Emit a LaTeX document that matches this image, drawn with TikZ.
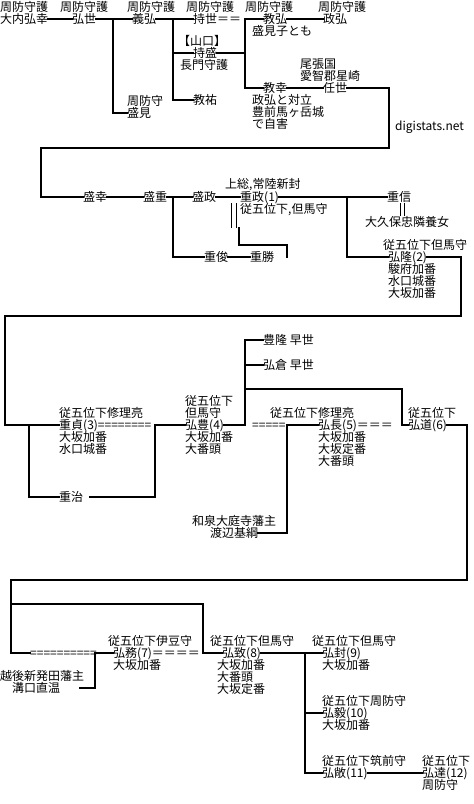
\documentclass[tikz,border=0pt]{standalone}
\usepackage{fontspec}
\setmainfont{Noto Sans CJK JP}

\begin{document}
\begin{tikzpicture}[
  x=1pt, y=-1pt,
  nm/.style={inner sep=0pt, anchor=west, font=\fontsize{12}{12}\selectfont,
             text height=10.5pt, text depth=1.5pt},
  ttl/.style={inner sep=0pt, anchor=south west, align=left,
              font=\fontsize{12}{12}\selectfont},
  nt/.style={inner sep=0pt, anchor=north west, align=left,
             font=\fontsize{12}{12}\selectfont},
  ln/.style={line width=2pt, line cap=rect},
  tn/.style={line width=1pt}
]
  \useasboundingbox (0,0) rectangle (474,804);
  % 大内 (top row)
  \node[nm] (hiroyuki) at (0,19) {大内弘幸};
  \node[ttl] at (hiroyuki.north west) {周防守護};
  \node[nm] (hiroyo) at (72,19) {弘世};
  \node[ttl] at ([xshift=-12pt]hiroyo.north west) {周防守護};
  \node[nm] (yoshihiro) at (132,19) {義弘};
  \node[ttl] at ([xshift=-5pt]yoshihiro.north west) {周防守護};
  \node[nm] (mochiyo) at (193,19) {持世＝＝};
  \node[ttl] at ([xshift=-7pt]mochiyo.north west) {周防守護};
  \node[nm] (norihiro) at (263,19) {教弘};
  \node[ttl] at ([xshift=-18pt]norihiro.north west) {周防守護};
  \node[nt] at ([xshift=-11pt]norihiro.south west) {盛見子とも};
  \node[nm] (masahiro) at (323,19) {政弘};
  \node[ttl] at ([xshift=-5pt]masahiro.north west) {周防守護};
  \node[nm] (morimi) at (127,113) {盛見};
  \node[ttl] at (morimi.north west) {周防守};
  \node[nm] (mochimori) at (193,53) {持盛};
  \node[ttl] at ([xshift=-15pt]mochimori.north west) {【山口】};
  \node[nt] at ([xshift=-13pt]mochimori.south west) {長門守護};
  \node[nm] (kyouyuu) at (193,100) {教祐};
  \node[nm] (noriyuki) at (263,88) {教幸};
  \node[nt] at ([xshift=-11pt]noriyuki.south west) {政弘と対立\\豊前馬ヶ岳城\\で自害};
  \node[nm] (tokiyo) at (323,88) {任世};
  \node[ttl] at ([xshift=-23pt]tokiyo.north west) {尾張国\\愛智郡星崎};
  \node[nm] (site) at (395,126) {digistats.net};

  % 盛幸 -- 弘隆
  \node[nm] (morisachi) at (83,197) {盛幸};
  \node[nm] (morishige) at (143,197) {盛重};
  \node[nm] (morimasa) at (192,197) {盛政};
  \node[nm] (shigemasa) at (240,197) {重政(1)};
  \node[ttl] at ([xshift=-15pt]shigemasa.north west) {上総,常陸新封};
  \node[nt] at (shigemasa.south west) {従五位下,但馬守};
  \node[nm] (shigenobu) at (387,197) {重信};
  \node[nm] (okubo) at (365,222) {大久保忠隣養女};
  \node[nm] (shigetoshi) at (204,257) {重俊};
  \node[nm] (shigekatsu) at (250,257) {重勝};
  \node[nm] (hirotaka) at (388,257) {弘隆(2)};
  \node[ttl] at ([xshift=-5pt]hirotaka.north west) {従五位下但馬守};
  \node[nt] at (hirotaka.south west) {駿府加番\\水口城番\\大坂加番};

  % 重貞 -- 弘道
  \node[nm] (shigesada) at (59,425) {重貞(3)========};
  \node[ttl] at (shigesada.north west) {従五位下修理亮};
  \node[nt] at (shigesada.south west) {大坂加番\\水口城番};
  \node[nm] (shigeharu) at (59,497) {重治};
  \node[nm] (hirotoyo) at (185,425) {弘豊(4)};
  \node[ttl] at (hirotoyo.north west) {従五位下\\但馬守};
  \node[nt] at (hirotoyo.south west) {大坂加番\\大番頭};
  \node[nm] (toyotaka) at (263,340) {豊隆 早世};
  \node[nm] (hirokura) at (263,365) {弘倉 早世};
  \node[nm] (eq1) at (252,425) {=====};
  \node[nm] (hironaga) at (318,425) {弘長(5)＝＝＝};
  \node[ttl] at ([xshift=-48pt]hironaga.north west) {従五位下修理亮};
  \node[nt] at (hironaga.south west) {大坂加番\\大坂定番\\大番頭};
  \node[nm] (watanabe) at (210,533) {渡辺基綱};
  \node[ttl] at ([xshift=-18pt]watanabe.north west) {和泉大庭寺藩主};
  \node[nm] (hiromichi) at (408,425) {弘道(6)};
  \node[ttl] at (hiromichi.north west) {従五位下};

  % 弘務 -- 弘達
  \node[nm] (eq2) at (30,653) {==========};
  \node[nm] (mizoguchi) at (12,688) {溝口直温};
  \node[ttl] at ([xshift=-12pt]mizoguchi.north west) {越後新発田藩主};
  \node[nm] (hirotsuka) at (113,653) {弘務(7)＝＝＝＝};
  \node[ttl] at ([xshift=-5pt]hirotsuka.north west) {従五位下伊豆守};
  \node[nt] at (hirotsuka.south west) {大坂加番};
  \node[nm] (hirochi) at (222,653) {弘致(8)};
  \node[ttl] at ([xshift=-12pt]hirochi.north west) {従五位下但馬守};
  \node[nt] at ([xshift=-5pt]hirochi.south west) {大坂加番\\大番頭\\大坂定番};
  \node[nm] (hirokane) at (322,653) {弘封(9)};
  \node[ttl] at ([xshift=-10pt]hirokane.north west) {従五位下但馬守};
  \node[nt] at (hirokane.south west) {大坂加番};
  \node[nm] (hiroki) at (322,713) {弘毅(10)};
  \node[ttl] at (hiroki.north west) {従五位下周防守};
  \node[nt] at (hiroki.south west) {大坂加番};
  \node[nm] (hironao) at (322,773) {弘敞(11)};
  \node[ttl] at (hironao.north west) {従五位下筑前守};
  \node[nm] (hirosato) at (422,773) {弘達(12)};
  \node[ttl] at (hirosato.north west) {従五位下};
  \node[nt] at (hirosato.south west) {周防守};

  % lines
  \coordinate (j1) at (113,19);
  \coordinate (j2) at (173,19);
  \coordinate (j3) at (245,53);
  \coordinate (r1) at (389,148);
  \coordinate (r2) at (41,148);
  \draw[ln] (hiroyuki.east) -- (hiroyo.west);
  \draw[ln] (hiroyo.east) -- (yoshihiro.west);
  \draw[ln] (j1) |- (morimi.west);
  \draw[ln] (yoshihiro.east) -- (mochiyo.west);
  \draw[ln] (j2) |- (mochimori.west);
  \draw[ln] (j2) |- (kyouyuu.west);
  \draw[ln] (mochimori.east) -- (j3);
  \draw[ln] (norihiro.west) -| (j3) |- (noriyuki.west);
  \draw[ln] (norihiro.east) -- (masahiro.west);
  \draw[ln] (noriyuki.east) -- (tokiyo.west);
  \draw[ln] (tokiyo.east) -| (r1) -- (r2) |- (morisachi.west);

  \coordinate (j4) at (173,197);
  \coordinate (j5) at (347,197);
  \coordinate (k1) at (239,228);
  \coordinate (k2) at (287,245);
  \coordinate (r3) at (461,316);
  \coordinate (r4) at (5,316);
  \draw[ln] (morisachi.east) -- (morishige.west);
  \draw[ln] (morishige.east) -- (morimasa.west);
  \draw[ln] (j4) |- (shigetoshi.west);
  \draw[ln] (shigetoshi.east) -- (shigekatsu.west);
  \draw[ln] (morimasa.east) -- (shigemasa.west);
  \draw[ln] (shigemasa.east) -- (shigenobu.west);
  \draw[ln] (j5) |- (hirotaka.west);
  % double lines (marriage / adoption)
  \draw[tn] ([xshift=1pt]shigenobu.south) -- ([xshift=1pt]okubo.north -| shigenobu.south);
  \draw[tn] ([xshift=5pt]shigenobu.south) -- ([xshift=5pt]okubo.north -| shigenobu.south);
  \draw[tn] ([xshift=-9pt]shigemasa.south west) -- ([xshift=-9pt]k1 -| shigemasa.south west);
  \draw[tn] ([xshift=-4pt]shigemasa.south west) -- ([xshift=-4pt]k1 -| shigemasa.south west);
  \draw[ln] (k1) |- (k2) -- (k2 |- shigekatsu.east);
  \draw[ln] (hirotaka.east) -| (r3) -- (r4) |- (shigesada.west);

  \coordinate (j6) at (29,425);
  \coordinate (j7) at (155,425);
  \coordinate (j8) at (245,425);
  \coordinate (j9) at (287,425);
  \coordinate (h1) at (90,497);
  \coordinate (r5) at (402,389);
  \coordinate (r6) at (467,580);
  \coordinate (r7) at (11,580);
  \draw[ln] (j6) |- (shigeharu.west);
  \draw[ln] (h1) -| (j7) -- (hirotoyo.west);
  \draw[ln] (hirotoyo.east) -- (j8);
  \draw[ln] (j8) |- (toyotaka.west);
  \draw[ln] (j8) |- (hirokura.west);
  \draw[ln] (j8) |- (r5) |- (hiromichi.west);
  \draw[ln] (j9) -- (hironaga.west);
  \draw[ln] (j9) |- (watanabe.east);
  \draw[ln] (hiromichi.east) -| (r6) -- (r7) |- (eq2.west);

  \coordinate (j10) at (11,604);
  \coordinate (j11) at (203,653);
  \coordinate (j12) at (95,653);
  \coordinate (j13) at (80,688);
  \coordinate (j14) at (305,653);
  \draw[ln] (j10) -| (j11) -- (hirochi.west);
  \draw[ln] (j13) -| (j12) -- (hirotsuka.west);
  \draw[ln] (hirochi.east) -- (hirokane.west);
  \draw[ln] (j14) |- (hiroki.west);
  \draw[ln] (j14) |- (hironao.west);
  \draw[ln] (hironao.east) -- (hirosato.west);
\end{tikzpicture}
\end{document}
